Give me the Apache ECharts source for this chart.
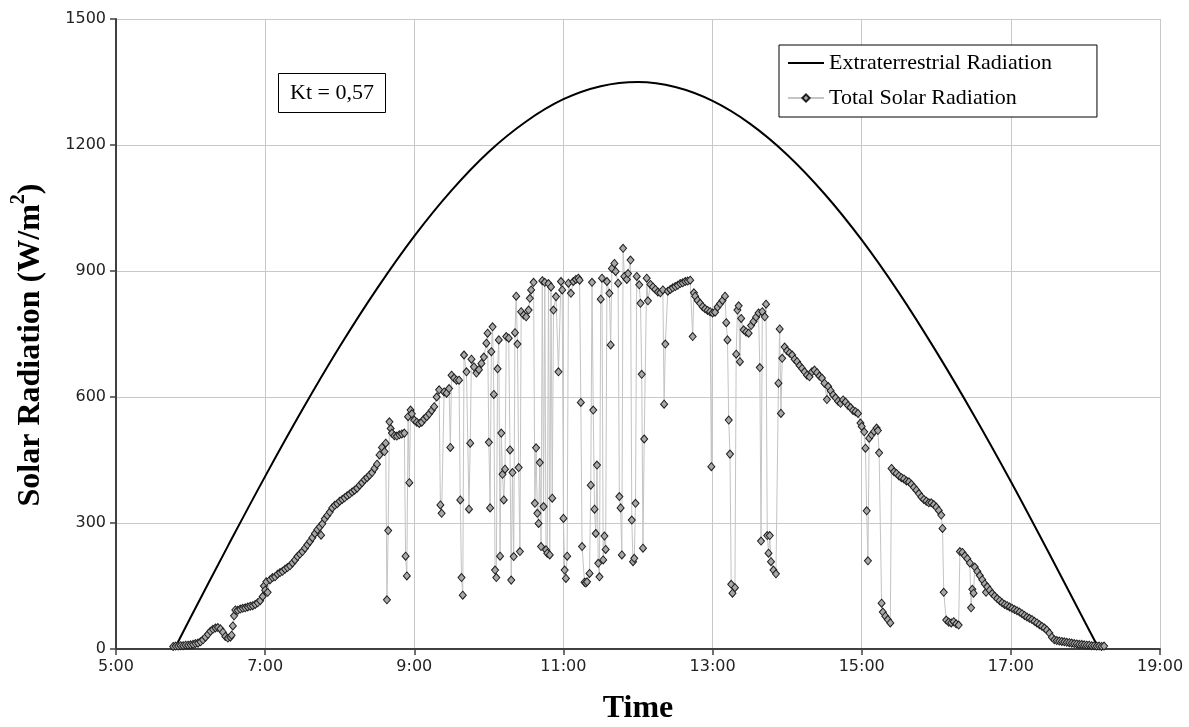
<!DOCTYPE html>
<html>
<head>
<meta charset="utf-8">
<script src="https://cdn.jsdelivr.net/npm/echarts@6/dist/echarts.min.js"></script>
<style>
html,body{margin:0;padding:0;background:#fff;}
#chart{width:1189px;height:727px;}
</style>
</head>
<body>
<div id="chart"></div>
<script>
// x ticks (minutes since midnight) and their labels
const xTickMinutes = [300, 420, 540, 660, 780, 900, 1020, 1140];
const xTickLabels = ['5:00', '7:00', '9:00', '11:00', '13:00', '15:00', '17:00', '19:00'];
const yTicks = [0, 300, 600, 900, 1200, 1500];
const yTickLabels = ['0', '300', '600', '900', '1200', '1500'];
const seriesNames = ['Extraterrestrial Radiation', 'Total Solar Radiation'];
const ktText = 'Kt = 0,57';

// Extraterrestrial radiation [minute, W/m2]
const extraterrestrial = [
  [347,0],[360,75],[390,245],[420,411],[450,570],[480,720],[510,858],[540,983],
  [570,1092],[600,1184],[630,1256],[660,1309],[690,1340],[720,1350],[750,1338],
  [780,1305],[810,1251],[840,1177],[870,1084],[900,974],[930,848],[960,708],
  [990,558],[1020,399],[1050,232],[1080,62],[1091,0]
];

// Total solar radiation [minute, W/m2]
const totalSolarMorning = [
  [346,6],[348,7],[350,7],[352,8],[354,8],[356,9],[358,9],[360,10],[362,11],[364,13],
  [366,14],[368,17],[370,22],[372,28],[374,35],[376,42],[378,47],[380,50],[382,51],[384,48],
  [386,40],[388,30],[390,26],[392,28],[393,33],[394,55],[395,79],[396,93],[398,92],[400,95],
  [402,97],[404,98],[406,100],[408,102],[410,103],[412,106],[414,110],[416,115],[418,125],[419,150],
  [420,140],[421,160],[422,135],[424,165],[426,170],[428,172],[430,178],[432,182],[434,185],[436,190],
  [438,194],[440,198],[442,205],[444,212],[446,220],[448,226],[450,232],[452,240],[454,248],[456,256],
  [458,265],[460,275],[462,284],[464,291],[465,271],[466,298],[468,310],[470,318],[472,326],[474,336],
  [476,342],[478,346],[480,352],[482,356],[484,360],[486,365],[488,369],[490,374],[492,378],[494,383],
  [496,390],[498,396],[500,403],[502,408],[504,414],[506,420],[508,430],[510,440],[512,462],[514,480],
  [516,470],[517,490]
];
const totalSolarMidday = [
  [518,117],[519,282],[520,541],[521,525],[522,514],[524,508],[526,507],[528,510],[530,512],[532,514],
  [533,221],[534,174],[535,553],[536,396],[537,569],[538,560],[540,545],[542,540],[544,537],[546,540],
  [548,548],[550,553],[552,560],[554,568],[556,577],[558,600],[560,617],[561,343],[562,323],[564,612],
  [566,609],[568,620],[569,480],[570,652],[572,645],[574,640],[576,640],[577,355],[578,170],[579,128],
  [580,700],[582,660],[584,333],[585,490],[586,690],[588,672],[590,657],[592,665],[594,680],[596,695],
  [598,728],[599,752],[600,492],[601,336],[602,708],[603,767],[604,606],[605,188],[606,170],[607,667],
  [608,736],[609,221],[610,514],[611,416],[612,355],[613,428],[614,744],[616,740],[617,474],[618,164],
  [619,420],[620,220],[621,753],[622,840],[623,726],[624,432],[625,232],[626,803],[628,795],[630,791],
  [632,807],[633,835],[634,855],[636,873],[637,347],[638,479],[639,323],[640,299],[641,444],[642,244],
  [643,877],[644,339],[645,873],[646,236],[647,228],[648,870],[649,224],[650,862],[651,359],[652,807],
  [654,839],[656,660],[658,875],[659,855],[660,311],[661,188],[662,168],[663,221],[664,871],[666,847],
  [668,875],[670,880],[672,883],[673,878],[674,587],[675,244],[677,159],[678,157],[679,160],[681,180],
  [682,390],[683,873],[684,569],[685,333],[686,275],[687,438],[688,204],[689,172],[690,833],[691,883],
  [692,212],[693,269],[694,237],[695,875],[697,847],[698,724],[699,906],[701,918],[702,899],[704,871],
  [705,363],[706,336],[707,224],[708,954],[709,887],[711,880],[712,894],[714,926],[715,307],[716,208],
  [717,216],[718,347],[719,887],[721,867],[722,823],[723,654],[724,240],[725,500],[727,883],[728,829],
  [730,868],[732,862],[734,856],[736,850],[738,848],[740,855],[741,583],[742,726],[744,852],[746,856],
  [748,860],[750,863],[752,866],[754,870],[756,872],[758,875],[760,876],[762,878],[764,744],[765,848],
  [766,840],[768,830],[770,823],[772,815],[774,810],[776,806],[778,803],[779,434],[780,800],[782,802],
  [784,814],[786,822],[788,830],[790,840],[791,777],[792,736],[793,545],[794,464],[795,154],[796,133],
  [798,146],[799,702],[800,807],[801,817],[802,684],[803,787],[805,760],[807,755],[809,752],[811,770],
  [813,780],[815,790],[817,800],[818,670],[819,257],[820,803],[822,791],[823,821],[824,270],[825,228],
  [826,270],[827,208],[829,188],[831,179],[833,633],[834,762],[835,561],[836,692],[838,719],[840,710],
  [842,705]
];
const totalSolarAfternoon = [
  [844,700],[846,690],[848,684],[850,675],[852,668],[854,660],[856,652],[858,648],[860,660],[862,664],
  [864,658],[866,650],[868,645],[870,633],[872,594],[873,625],[875,615],[877,605],[879,598],[881,590],
  [883,585],[885,593],[887,588],[889,580],[891,575],[893,568],[895,565],[897,561],[899,538],[900,530],
  [902,517],[903,478],[904,329],[905,210],[906,502],[908,510],[910,518],[912,526],[913,520],[914,467],
  [916,109],[917,88],[919,78],[921,70],[923,62],[924,430],[926,422],[928,418],[930,412],[932,408],
  [934,405],[936,400],[938,398],[940,392],[942,385],[944,378],[946,370],[948,362],[950,356],[952,352],
  [954,348],[956,348],[958,344],[960,338],[962,330],[964,319],[965,287],[966,135],[968,69],[970,64],
  [972,62],[974,65],[976,60],[978,57],[979,232],[981,230],[983,222],[985,215],[987,205],[988,98],
  [989,142],[990,133],[991,195],[993,185],[995,175],[997,165],[999,155],[1000,135],[1001,148],[1003,140],
  [1005,132],[1007,126],[1009,120],[1011,115],[1013,110],[1015,106],[1017,103],[1019,100],[1021,97],[1023,94],
  [1025,91],[1027,88],[1029,84],[1031,80],[1033,76],[1035,73],[1037,70],[1039,66],[1041,62],[1043,58],
  [1045,54],[1047,50],[1049,45],[1051,38],[1053,28],[1055,22],[1057,20],[1059,19],[1061,18],[1063,17],
  [1065,16],[1067,15],[1069,14],[1071,13],[1073,12],[1075,11],[1077,11],[1079,10],[1081,9],[1083,9],
  [1085,8],[1087,8],[1089,7],[1091,7],[1093,6],[1095,7]
];

const totalSolar = totalSolarMorning.concat(totalSolarMidday, totalSolarAfternoon);

const chart = echarts.init(document.getElementById('chart'), null, {renderer: 'canvas'});
const axisColor = '#404040';
const gridColor = '#c8c8c8';
const serif = 'Liberation Serif';
const tickFont = {fontFamily: 'DejaVu Sans', fontSize: 16, color: '#222'};
const titleFont = {fontFamily: serif, fontWeight: 'bold', fontSize: 32, color: '#000'};

chart.setOption({
  animation: false,
  backgroundColor: '#fff',
  grid: {left: 116, right: 29, top: 19, bottom: 78, containLabel: false, outerBoundsMode: 'none'},
  title: {
    text: ktText,
    left: 278, top: 73,
    borderColor: '#000', borderWidth: 1,
    padding: [8, 12, 8, 12],
    backgroundColor: '#fff',
    textStyle: {fontFamily: serif, fontWeight: 'normal', fontSize: 22, color: '#000', lineHeight: 24}
  },
  legend: {
    data: [
      {name: seriesNames[0], icon: 'path://M0,0 M0,3.5 L36,3.5 L36,5.5 L0,5.5 Z M36,9', itemStyle: {color: '#000'}},
      {name: seriesNames[1]}
    ],
    orient: 'vertical',
    left: 779, top: 45,
    backgroundColor: '#fff',
    borderColor: '#000', borderWidth: 1,
    padding: [7, 45, 8, 8],
    itemWidth: 36, itemHeight: 9, itemGap: 13,
    textStyle: {fontFamily: serif, fontSize: 22, color: '#000', lineHeight: 22}
  },
  xAxis: {
    type: 'value',
    min: xTickMinutes[0], max: xTickMinutes[xTickMinutes.length - 1],
    interval: xTickMinutes[1] - xTickMinutes[0],
    name: 'Time', nameLocation: 'middle', nameGap: 44, nameTextStyle: titleFont,
    axisLine: {show: true, lineStyle: {color: axisColor, width: 2}},
    axisTick: {show: true, inside: false, length: 6, lineStyle: {color: axisColor, width: 1.5}},
    axisLabel: Object.assign({margin: 10, formatter: v => xTickLabels[xTickMinutes.indexOf(v)] || ''}, tickFont),
    splitLine: {show: true, lineStyle: {color: gridColor, width: 1}}
  },
  yAxis: {
    type: 'value',
    min: yTicks[0], max: yTicks[yTicks.length - 1], interval: yTicks[1] - yTicks[0],
    name: '{a|Solar Radiation (W/m}{s|2}{a|)}', nameLocation: 'middle', nameGap: 69,
    nameTextStyle: {
      padding: [0, 22, 0, 0],
      rich: {
        a: {fontFamily: serif, fontWeight: 'bold', fontSize: 32, color: '#000', lineHeight: 38, verticalAlign: 'bottom'},
        s: {fontFamily: serif, fontWeight: 'bold', fontSize: 20, color: '#000', lineHeight: 20, verticalAlign: 'top'}
      }
    },
    axisLine: {show: true, lineStyle: {color: axisColor, width: 2}},
    axisTick: {show: true, inside: false, length: 6, lineStyle: {color: axisColor, width: 1.5}},
    axisLabel: Object.assign({margin: 10, formatter: v => yTickLabels[yTicks.indexOf(v)] || ''}, tickFont),
    splitLine: {show: true, lineStyle: {color: gridColor, width: 1}}
  },
  series: [
    {
      name: seriesNames[0],
      type: 'line',
      data: extraterrestrial,
      smooth: 0.4,
      symbol: 'none',
      lineStyle: {color: '#000', width: 2},
      itemStyle: {color: '#000'},
      z: 2
    },
    {
      name: seriesNames[1],
      type: 'line',
      data: totalSolar,
      symbol: 'diamond',
      symbolSize: [7, 8],
      showAllSymbol: true,
      lineStyle: {color: '#c4c4c4', width: 1},
      itemStyle: {color: '#a8a8a8', borderColor: '#1e1e1e', borderWidth: 1},
      z: 3
    }
  ]
});
</script>
</body>
</html>
